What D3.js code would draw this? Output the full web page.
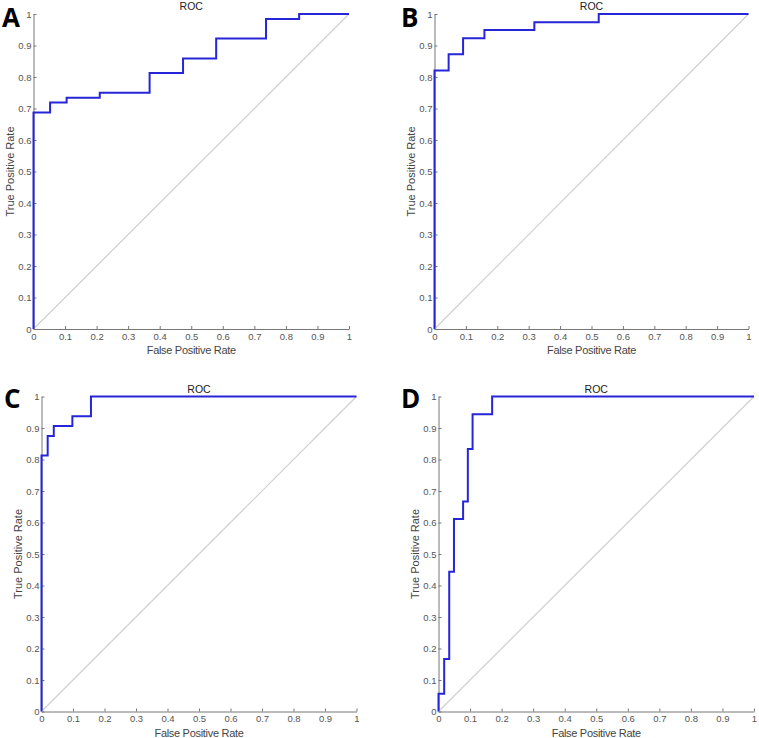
<!DOCTYPE html>
<html><head><meta charset="utf-8">
<script src="https://cdn.jsdelivr.net/npm/d3@7"></script>
<style>
body{margin:0;background:#fff;}
svg{display:block;}
</style></head>
<body>
<svg id="c" width="759" height="738"></svg>
<script>
// ---- data ----
const panelLabels = ["A","B","C","D"];
const chartTitle = "ROC";
const xLabel = "False Positive Rate";
const yLabel = "True Positive Rate";
const tickValues = [0,0.1,0.2,0.3,0.4,0.5,0.6,0.7,0.8,0.9,1];
const tickLabels = ["0","0.1","0.2","0.3","0.4","0.5","0.6","0.7","0.8","0.9","1"];

// ROC step vertices (FPR, TPR)
const rocA_fpr = [0,0,0.0526,0.0526,0.105,0.105,0.21,0.21,0.368,0.368,0.474,0.474,0.579,0.579,0.737,0.737,0.842,0.842,1];
const rocA_tpr = [0,0.6875,0.6875,0.719,0.719,0.734,0.734,0.75,0.75,0.8125,0.8125,0.859,0.859,0.922,0.922,0.984,0.984,1,1];

const rocB_fpr = [0,0,0.045,0.045,0.091,0.091,0.159,0.159,0.318,0.318,0.523,0.523,1];
const rocB_tpr = [0,0.821,0.821,0.872,0.872,0.923,0.923,0.949,0.949,0.974,0.974,1,1];

const rocC_fpr = [0,0,0.0196,0.0196,0.039,0.039,0.098,0.098,0.157,0.157,1];
const rocC_tpr = [0,0.8125,0.8125,0.875,0.875,0.906,0.906,0.9375,0.9375,1,1];

const rocD_fpr = [0,0,0.018,0.018,0.034,0.034,0.049,0.049,0.078,0.078,0.093,0.093,0.108,0.108,0.17,0.17,1];
const rocD_tpr = [0,0.056,0.056,0.167,0.167,0.444,0.444,0.611,0.611,0.667,0.667,0.833,0.833,0.944,0.944,1,1];

const diag_fpr = [0,1];
const diag_tpr = [0,1];

// ---- layout ----
const layouts = [
  {l:33.5, r:349, t:14, b:329},
  {l:434.5, r:748.5, t:14, b:329},
  {l:41.5, r:356.5, t:396.5, b:711.5},
  {l:438.5, r:754, t:396.5, b:711.5}
];
const letterPos = [[2,27],[401,27],[4,408],[401,408]];
const series = [[rocA_fpr,rocA_tpr],[rocB_fpr,rocB_tpr],[rocC_fpr,rocC_tpr],[rocD_fpr,rocD_tpr]];

const svg = d3.select("#c");
const font = "'Liberation Sans', Arial, sans-serif";

layouts.forEach((L,i)=>{
  const x = d3.scaleLinear().domain([0,1]).range([L.l,L.r]);
  const y = d3.scaleLinear().domain([0,1]).range([L.b,L.t]);
  const g = svg.append("g");

  // axes
  const fmt = (d,j)=>tickLabels[j];
  const xa = g.append("g").attr("transform",`translate(0,${L.b})`)
    .call(d3.axisBottom(x).tickValues(tickValues).tickFormat(fmt).tickSizeInner(-3).tickSizeOuter(0).tickPadding(4));
  const ya = g.append("g").attr("transform",`translate(${L.l},0)`)
    .call(d3.axisLeft(y).tickValues(tickValues).tickFormat(fmt).tickSizeInner(-3).tickSizeOuter(0).tickPadding(2));
  [xa,ya].forEach(a=>{
    a.select(".domain").attr("stroke","#777").attr("stroke-width",1);
    a.selectAll(".tick line").attr("stroke","#777");
    a.selectAll(".tick text").attr("fill","#555").style("font-family",font).style("font-size","9.5px");
  });

  // diagonal
  const line = d3.line().x(d=>x(d[0])).y(d=>y(d[1]));
  g.append("path").datum(diag_fpr.map((v,j)=>[v,diag_tpr[j]]))
    .attr("d",line).attr("fill","none").attr("stroke","#cfcfcf").attr("stroke-width",1.2);

  // roc curve
  const [fx,ty] = series[i];
  g.append("path").datum(fx.map((v,j)=>[v,ty[j]]))
    .attr("d",line).attr("fill","none").attr("stroke","#2626d8").attr("stroke-width",2).attr("stroke-linejoin","miter");

  // title
  g.append("text").attr("x",(L.l+L.r)/2).attr("y",L.t-4)
    .attr("text-anchor","middle").style("font-family",font).style("font-size","10.5px").attr("fill","#222").text(chartTitle);
  // x label
  g.append("text").attr("x",(L.l+L.r)/2).attr("y",L.b+25)
    .attr("text-anchor","middle").style("font-family",font).style("font-size","11px").style("letter-spacing","-0.3px").attr("fill","#444").text(xLabel);
  // y label
  g.append("text").attr("transform",`translate(${L.l-23},${(L.t+L.b)/2}) rotate(-90)`)
    .attr("text-anchor","middle").attr("dy","0.35em").style("font-family",font).style("font-size","11px").attr("fill","#444").text(yLabel);
  // panel letter
  g.append("text").attr("x",letterPos[i][0]).attr("y",letterPos[i][1])
    .style("font-family","'Open Sans', 'Liberation Sans', sans-serif").style("font-weight","bold").style("font-size","26px").attr("fill","#000").text(panelLabels[i]);
});
</script>
</body></html>
